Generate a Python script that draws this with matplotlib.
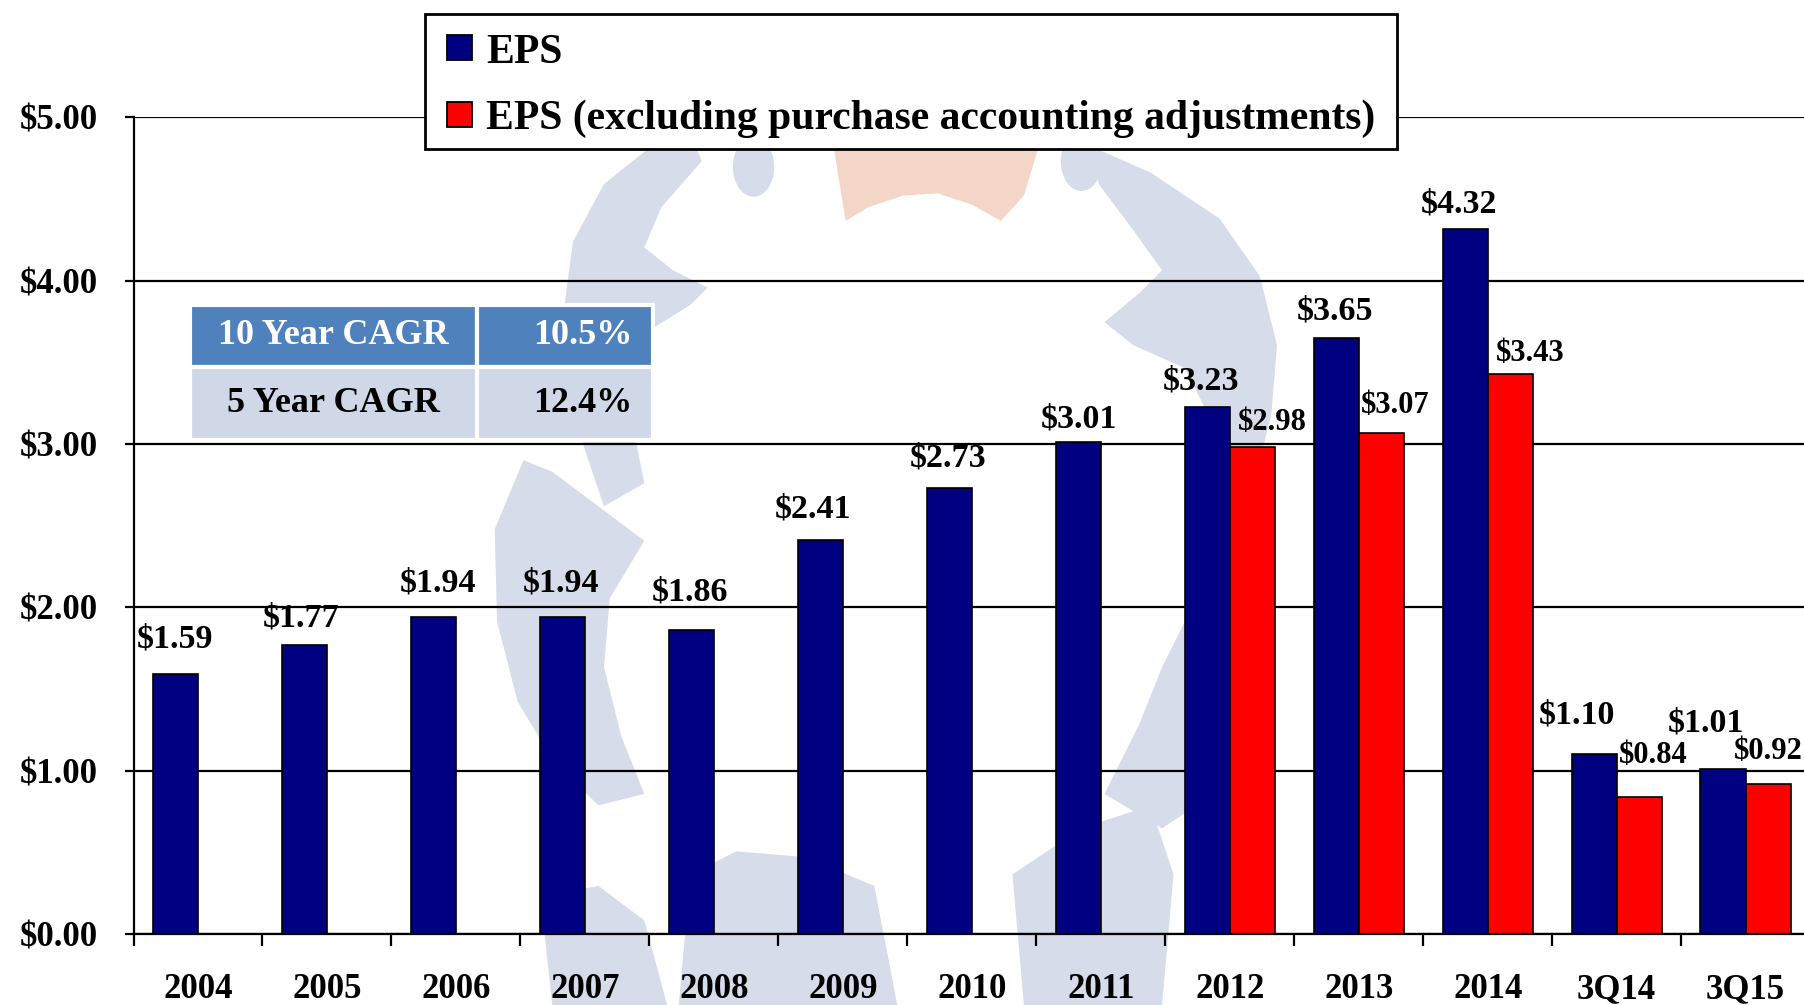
import matplotlib
matplotlib.use('Agg')
import matplotlib.pyplot as plt
from matplotlib.patches import Rectangle, Polygon, Ellipse
import numpy as np

# ---------------- data ----------------
categories = ['2004', '2005', '2006', '2007', '2008', '2009', '2010',
              '2011', '2012', '2013', '2014', '3Q14', '3Q15']
eps = [1.59, 1.77, 1.94, 1.94, 1.86, 2.41, 2.73, 3.01, 3.23, 3.65, 4.32, 1.10, 1.01]
eps_adj = [None, None, None, None, None, None, None, None, 2.98, 3.07, 3.43, 0.84, 0.92]
yticks = [0, 1, 2, 3, 4, 5]
ytick_labels = ['$0.00', '$1.00', '$2.00', '$3.00', '$4.00', '$5.00']
legend_labels = ['EPS', 'EPS (excluding purchase accounting adjustments)']
cagr_names = ['10 Year CAGR', '5 Year CAGR']
cagr_values = ['10.5%', '12.4%']

# ---------------- styling ----------------
NAVY = '#000080'
RED = '#FF0000'
WM_BLUE = '#D7DCEB'
WM_ORANGE = '#F3D6C8'
FONT = 'Liberation Serif'
W, H = 1804, 1005
DPI = 100
S = 1.1505                  # reference-display px -> full px
PX2PT = 72.0 / DPI * S      # reference-display px -> points

# label offsets (reference-display px): dx, distance of label centre above bar top
blue_dx = [0, -3, 4, -1, -1, -6, -1, 1, -5, -1, -5, -15, -15]
blue_dy = [31, 23, 30, 30, 33, 27, 26, 20, 22, 23, 21, 34, 40]
red_dx = [None] * 8 + [17, 12, 17, 12, 0]
red_dy = [None] * 8 + [22, 24, 18, 36, 28]

plt.rcParams['font.family'] = [FONT, 'DejaVu Serif']
plt.rcParams['font.weight'] = 'bold'

fig = plt.figure(figsize=(W / DPI, H / DPI), dpi=DPI)
fig.patch.set_facecolor('white')

# ---------- faint background logo (decoration) ----------
wm = fig.add_axes([0, 0, 1, 1], zorder=-5)
wm.set_xlim(0, W)
wm.set_ylim(H, 0)
wm.axis('off')
wm_polys = [
    [(565, 128), (525, 160), (498, 210), (490, 270), (495, 330), (508, 390), (525, 440),
     (560, 420), (550, 370), (545, 320), (560, 290), (600, 265), (615, 250), (585, 235),
     (560, 215), (575, 180), (610, 140), (605, 128)],
    [(455, 400), (430, 460), (432, 540), (450, 610), (480, 660), (520, 700), (560, 690),
     (540, 640), (525, 580), (530, 520), (560, 470), (520, 440), (480, 410)],
    [(950, 128), (1000, 150), (1060, 190), (1095, 240), (1110, 300), (1105, 360),
     (1090, 420), (1065, 470), (1030, 480), (1045, 420), (1050, 360), (1030, 320),
     (985, 300), (960, 280), (990, 255), (1010, 235), (985, 200), (955, 160)],
    [(1040, 520), (1080, 560), (1095, 610), (1070, 680), (1010, 720), (960, 690),
     (990, 630), (1010, 580)],
    [(600, 760), (640, 740), (700, 745), (760, 770), (780, 874), (590, 874)],
    [(470, 780), (520, 770), (560, 800), (580, 874), (480, 874)],
    [(880, 760), (940, 720), (1000, 700), (1020, 760), (1010, 874), (890, 874)],
]
for poly in wm_polys:
    wm.add_patch(Polygon([(px * S, py * S) for px, py in poly], closed=True,
                         facecolor=WM_BLUE, edgecolor='none'))
for cx, cy in [(655, 145), (940, 140)]:
    wm.add_patch(Ellipse((cx * S, cy * S), 36 * S, 52 * S, facecolor=WM_BLUE, edgecolor='none'))
orange = [(725, 130), (902, 130), (890, 170), (870, 192), (845, 178), (815, 168),
          (785, 170), (755, 180), (735, 192)]
wm.add_patch(Polygon([(px * S, py * S) for px, py in orange], closed=True,
                     facecolor=WM_ORANGE, edgecolor='none'))

# ---------- main axes ----------
left = 133.5 / W
bottom = 1 - 934.0 / H
top = 1 - 117.5 / H
width = 13 * 112.1 * S / W
ax = fig.add_axes([left, bottom, width, top - bottom])
ax.patch.set_alpha(0)

x = np.arange(len(categories))
bw = 0.35
blue_x = x + 0.15 + bw / 2
red_x = x + 0.5 + bw / 2

ax.bar(blue_x, eps, width=bw, color=NAVY, edgecolor='black', linewidth=1.2, zorder=3,
       label=legend_labels[0])
adj_idx = [i for i, v in enumerate(eps_adj) if v is not None]
ax.bar(red_x[adj_idx], [eps_adj[i] for i in adj_idx], width=bw, color=RED,
       edgecolor='black', linewidth=1.2, zorder=3, label=legend_labels[1])

for i, v in enumerate(eps):
    ax.annotate('$%.2f' % v, xy=(blue_x[i], v),
                xytext=(blue_dx[i] * PX2PT, blue_dy[i] * PX2PT),
                textcoords='offset points', ha='center', va='center',
                fontsize=24.5, fontweight='bold', color='black', zorder=5)
for i in adj_idx:
    v = eps_adj[i]
    ax.annotate('$%.2f' % v, xy=(red_x[i], v),
                xytext=(red_dx[i] * PX2PT, red_dy[i] * PX2PT),
                textcoords='offset points', ha='center', va='center',
                fontsize=22, fontweight='bold', color='black', zorder=5)

ax.set_xlim(0, 13)
ax.set_ylim(0, 5)
ax.set_yticks(yticks)
ax.set_yticklabels(ytick_labels, fontsize=25, fontweight='bold')
ax.yaxis.grid(True, color='black', linewidth=1.6)
ax.set_axisbelow(True)
ax.tick_params(axis='y', length=6.5, width=1.6, pad=19, color='black')

ax.set_xticks(np.arange(0, 14))
ax.set_xticklabels([])
ax.set_xticks(x + 0.5, minor=True)
ax.set_xticklabels(categories, minor=True, fontsize=25, fontweight='bold')
ax.tick_params(axis='x', which='major', length=8.5, width=1.6, direction='out')
ax.tick_params(axis='x', which='minor', length=0, pad=28)

for s in ['top', 'right']:
    ax.spines[s].set_visible(False)
for s in ['left', 'bottom']:
    ax.spines[s].set_linewidth(1.6)
    ax.spines[s].set_color('black')
    ax.spines[s].set_zorder(4)


def fx(px):
    return px / W


def fy(py):
    return 1 - py / H


# ---------- legend box (figure pixel coords) ----------
leg_box = Rectangle((fx(425), fy(149)), fx(1397) - fx(425), fy(14) - fy(149),
                    transform=fig.transFigure, facecolor='white', edgecolor='black',
                    linewidth=2, zorder=10)
fig.patches.append(leg_box)
leg_colors = [NAVY, RED]
handle_cy = [48, 114]
text_base = [63, 129]
for k in range(2):
    hnd = Rectangle((fx(447), fy(handle_cy[k] + 12.5)), fx(472) - fx(447),
                    fy(handle_cy[k] - 12.5) - fy(handle_cy[k] + 12.5),
                    transform=fig.transFigure, facecolor=leg_colors[k],
                    edgecolor='black', linewidth=1.3, zorder=11)
    fig.patches.append(hnd)
    fig.text(fx(486), fy(text_base[k]), legend_labels[k], ha='left', va='baseline',
             fontsize=30, fontweight='bold', color='black', zorder=12)

# ---------- CAGR table (figure pixel coords) ----------
col_edges = [190, 477, 653]
row_edges = [305, 367, 440]
row_colors = ['#4F81BD', '#D0D8E8']
text_colors = ['white', 'black']
for r in range(2):
    for c in range(2):
        rect = Rectangle((fx(col_edges[c]), fy(row_edges[r + 1])),
                         fx(col_edges[c + 1]) - fx(col_edges[c]),
                         fy(row_edges[r]) - fy(row_edges[r + 1]),
                         transform=fig.transFigure, facecolor=row_colors[r],
                         edgecolor='white', linewidth=3, zorder=6)
        fig.patches.append(rect)
    yc = fy((row_edges[r] + row_edges[r + 1]) / 2)
    fig.text(fx((col_edges[0] + col_edges[1]) / 2), yc, cagr_names[r],
             ha='center', va='center', fontsize=26, fontweight='bold',
             color=text_colors[r], zorder=7)
    fig.text(fx(col_edges[2] - 21), yc, cagr_values[r],
             ha='right', va='center', fontsize=26, fontweight='bold',
             color=text_colors[r], zorder=7)

fig.savefig('out.png', dpi=DPI)
